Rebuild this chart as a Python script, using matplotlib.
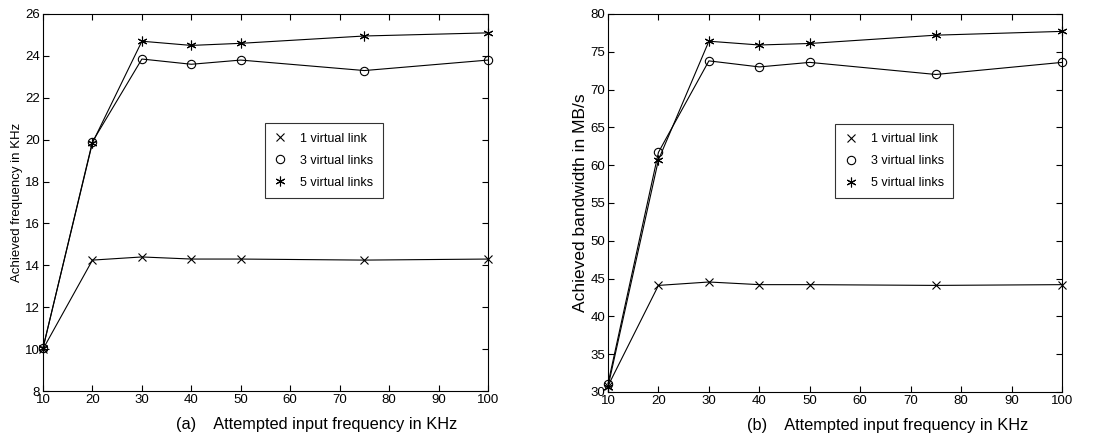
import matplotlib
matplotlib.use("Agg")
import matplotlib.pyplot as plt

plt.rcParams['font.family'] = ['Liberation Sans', 'DejaVu Sans']

x_khz = [10, 20, 30, 40, 50, 75, 100]
labels = ["1 virtual link", "3 virtual links", "5 virtual links"]

freq_1 = [10.0, 14.25, 14.4, 14.3, 14.3, 14.25, 14.3]
freq_3 = [10.05, 19.9, 23.85, 23.6, 23.8, 23.3, 23.8]
freq_5 = [10.05, 19.85, 24.7, 24.5, 24.6, 24.95, 25.1]

bw_1 = [30.8, 44.1, 44.55, 44.2, 44.2, 44.1, 44.2]
bw_3 = [31.1, 61.7, 73.8, 73.0, 73.6, 72.0, 73.6]
bw_5 = [30.7, 60.7, 76.4, 75.9, 76.1, 77.2, 77.7]

xticks = [10, 20, 30, 40, 50, 60, 70, 80, 90, 100]

fig = plt.figure(figsize=(11.02, 4.4), dpi=100)
W, H = 1102, 440
ax1 = fig.add_axes([43 / W, 1 - 391 / H, (488 - 43) / W, (391 - 14) / H])
ax2 = fig.add_axes([608 / W, 1 - 392 / H, (1062 - 608) / W, (392 - 14) / H])

markers = ['x', 'o', (6, 2, 0)]
msizes = [5.5, 6, 7]

def draw(ax, series, ylim, yticks, ylabel, ylabfs, xlabel, legpos):
    for s, m, ms, lab in zip(series, markers, msizes, labels):
        ax.plot(x_khz, s, color='black', lw=0.8, marker=m, ms=ms,
                mfc='none', mec='black', mew=0.8, label=lab, clip_on=False)
    ax.set_xlim(10, 100)
    ax.set_ylim(*ylim)
    ax.set_xticks(xticks)
    ax.set_yticks(yticks)
    ax.tick_params(direction='in', top=True, right=True, labelsize=9.5, length=4, width=0.8, pad=2)
    for sp in ax.spines.values():
        sp.set_linewidth(0.8)
    ax.set_ylabel(ylabel, fontsize=ylabfs, labelpad=2)
    ax.set_xlabel(xlabel, fontsize=11.8, labelpad=1)
    ax.xaxis.set_label_coords(0.615, -0.068)
    leg = ax.legend(loc='upper left', bbox_to_anchor=legpos, frameon=True, fancybox=False,
                    edgecolor='black', fontsize=9, handlelength=1.0, handletextpad=1.1,
                    labelspacing=0.8, borderpad=0.75, borderaxespad=0)
    leg.get_frame().set_linewidth(0.8)
    for h in leg.legend_handles:
        h.set_linestyle('none')

draw(ax1, [freq_1, freq_3, freq_5], (8, 26), list(range(8, 27, 2)),
     "Achieved frequency in KHz", 9.5,
     "(a)    Attempted input frequency in KHz", (0.498, 0.71))
draw(ax2, [bw_1, bw_3, bw_5], (30, 80), list(range(30, 81, 5)),
     "Achieved bandwidth in MB/s", 12.5,
     "(b)    Attempted input frequency in KHz", (0.5, 0.71))

fig.savefig("out.png", dpi=100)
